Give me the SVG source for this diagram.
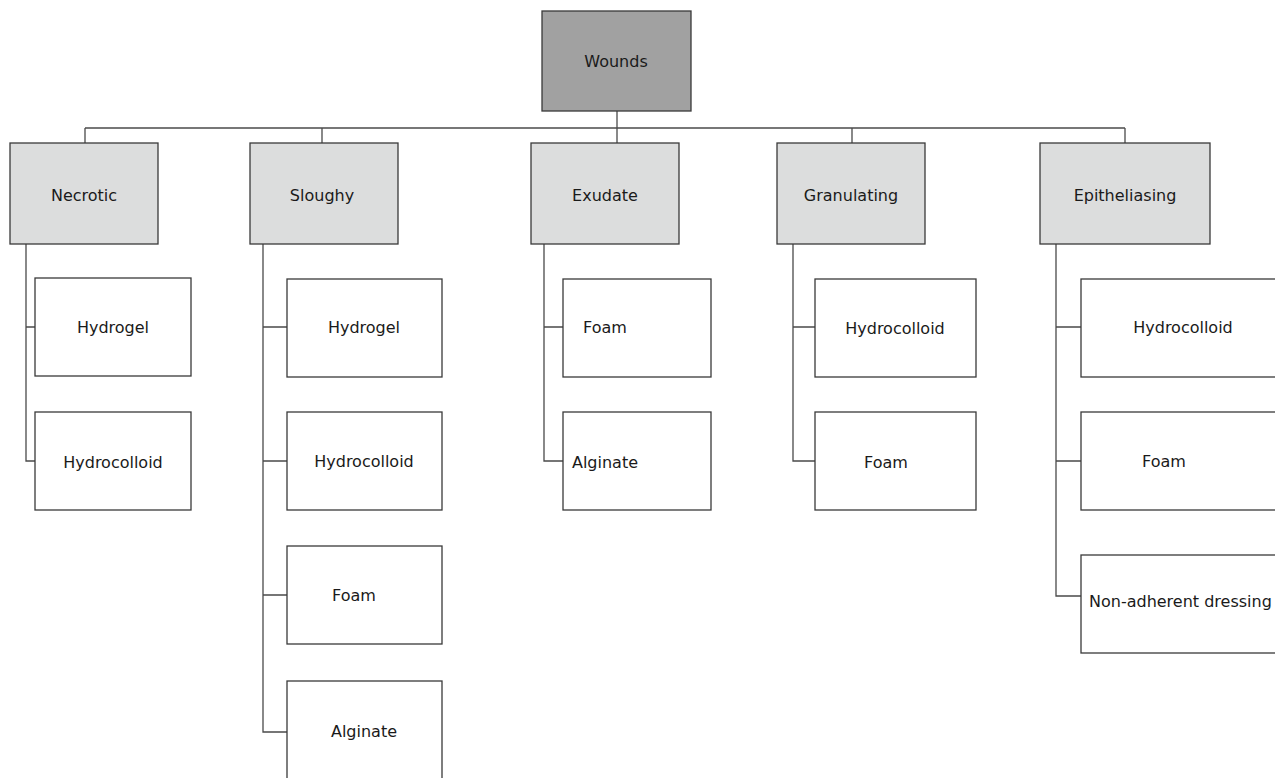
<svg xmlns="http://www.w3.org/2000/svg" width="1275" height="778" viewBox="0 0 1275 778">
  <style>
    .box { stroke: #3a3a3a; stroke-width: 1.3; }
    .root { fill: #a1a1a1; }
    .cat { fill: #dcdddd; }
    .leaf { fill: #ffffff; }
    .lbl { font-family: "DejaVu Sans", Verdana, sans-serif; font-size: 16px; fill: #1a1a1a; text-anchor: middle; dominant-baseline: central; }
    .wire { stroke: #4a4a4a; stroke-width: 1.3; fill: none; }
  </style>
  <rect x="0" y="0" width="1275" height="778" fill="#ffffff"/>

  <!-- connectors -->
  <g id="connectors" class="wire">
    <path d="M617,111 V143"/>
    <path d="M85,128 H1125"/>
    <path d="M85,128 V143 M322,128 V143 M852,128 V143 M1125,128 V143"/>
    <!-- Necrotic -->
    <path d="M26,244 V461 H35 M26,327 H35"/>
    <!-- Sloughy -->
    <path d="M263,244 V732 H287 M263,327 H287 M263,461 H287 M263,595 H287"/>
    <!-- Exudate -->
    <path d="M544,244 V461 H563 M544,327 H563"/>
    <!-- Granulating -->
    <path d="M793,244 V461 H815 M793,327 H815"/>
    <!-- Epitheliasing -->
    <path d="M1056,244 V596 H1081 M1056,327 H1081 M1056,461 H1081"/>
  </g>

  <g id="wounds"><rect class="box root" x="542" y="11" width="149" height="100"/><text class="lbl" x="616" y="61">Wounds</text></g>

  <g id="necrotic"><rect class="box cat" x="10" y="143" width="148" height="101"/><text class="lbl" x="84" y="195">Necrotic</text></g>
  <g id="necrotic-hydrogel"><rect class="box leaf" x="35" y="278" width="156" height="98"/><text class="lbl" x="113" y="327">Hydrogel</text></g>
  <g id="necrotic-hydrocolloid"><rect class="box leaf" x="35" y="412" width="156" height="98"/><text class="lbl" x="113" y="462">Hydrocolloid</text></g>

  <g id="sloughy"><rect class="box cat" x="250" y="143" width="148" height="101"/><text class="lbl" x="322" y="195">Sloughy</text></g>
  <g id="sloughy-hydrogel"><rect class="box leaf" x="287" y="279" width="155" height="98"/><text class="lbl" x="364" y="327">Hydrogel</text></g>
  <g id="sloughy-hydrocolloid"><rect class="box leaf" x="287" y="412" width="155" height="98"/><text class="lbl" x="364" y="461">Hydrocolloid</text></g>
  <g id="sloughy-foam"><rect class="box leaf" x="287" y="546" width="155" height="98"/><text class="lbl" x="354" y="595">Foam</text></g>
  <g id="sloughy-alginate"><rect class="box leaf" x="287" y="681" width="155" height="100"/><text class="lbl" x="364" y="731">Alginate</text></g>

  <g id="exudate"><rect class="box cat" x="531" y="143" width="148" height="101"/><text class="lbl" x="605" y="195">Exudate</text></g>
  <g id="exudate-foam"><rect class="box leaf" x="563" y="279" width="148" height="98"/><text class="lbl" x="605" y="327">Foam</text></g>
  <g id="exudate-alginate"><rect class="box leaf" x="563" y="412" width="148" height="98"/><text class="lbl" x="605" y="462">Alginate</text></g>

  <g id="granulating"><rect class="box cat" x="777" y="143" width="148" height="101"/><text class="lbl" x="851" y="195">Granulating</text></g>
  <g id="granulating-hydrocolloid"><rect class="box leaf" x="815" y="279" width="161" height="98"/><text class="lbl" x="895" y="328">Hydrocolloid</text></g>
  <g id="granulating-foam"><rect class="box leaf" x="815" y="412" width="161" height="98"/><text class="lbl" x="886" y="462">Foam</text></g>

  <g id="epitheliasing"><rect class="box cat" x="1040" y="143" width="170" height="101"/><text class="lbl" x="1125" y="195">Epitheliasing</text></g>
  <g id="epitheliasing-hydrocolloid"><rect class="box leaf" x="1081" y="279" width="210" height="98"/><text class="lbl" x="1183" y="327">Hydrocolloid</text></g>
  <g id="epitheliasing-foam"><rect class="box leaf" x="1081" y="412" width="210" height="98"/><text class="lbl" x="1164" y="461">Foam</text></g>
  <g id="epitheliasing-nonadherent"><rect class="box leaf" x="1081" y="555" width="210" height="98"/><text class="lbl" x="1089" y="601" style="text-anchor:start">Non-adherent dressing</text></g>
</svg>
